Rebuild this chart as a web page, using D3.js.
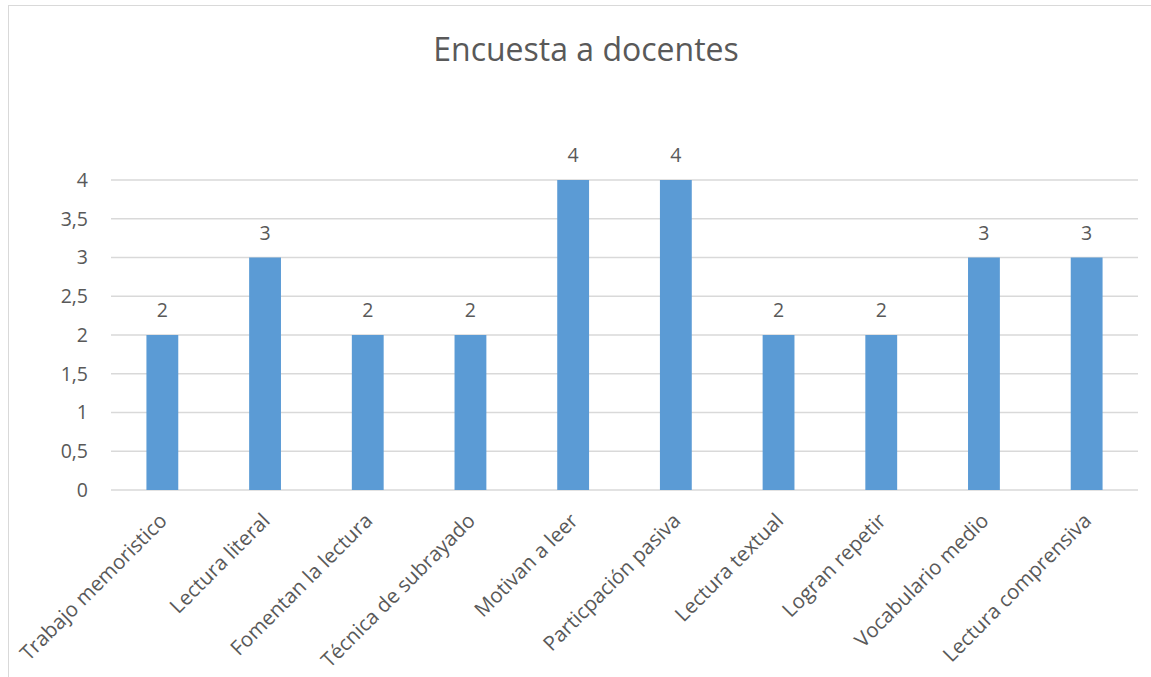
<!DOCTYPE html>
<html>
<head>
<meta charset="utf-8">
<script src="https://cdn.jsdelivr.net/npm/d3@7"></script>
<style>
  body { margin: 0; background: #fff; }
  text { font-family: "Open Sans", "Noto Sans", sans-serif; fill: #595959; }
</style>
</head>
<body>
<svg id="chart" width="1151" height="677"></svg>
<script>
const categories = ["Trabajo memoristico", "Lectura literal", "Fomentan la lectura", "Técnica de subrayado",
  "Motivan a leer", "Particpación pasiva", "Lectura textual", "Logran repetir", "Vocabulario medio", "Lectura comprensiva"];
const values = [2, 3, 2, 2, 4, 4, 2, 2, 3, 3];
const yTicks = [0, 0.5, 1, 1.5, 2, 2.5, 3, 3.5, 4];

(function () {
  const svg = d3.select("svg#chart");
  const plotLeft = 111, plotRight = 1138, plotTop = 180, plotBottom = 490;

  // chart frame
  svg.append("rect")
    .attr("x", 8.5).attr("y", 5.5)
    .attr("width", 1160).attr("height", 690)
    .attr("fill", "none")
    .attr("stroke", "#d9d9d9");

  svg.append("text")
    .attr("x", 586).attr("y", 61)
    .attr("text-anchor", "middle")
    .style("font-size", "32px")
    .text("Encuesta a docentes");

  const x = d3.scaleBand().domain(categories).range([plotLeft, plotRight]).paddingInner(0.69).paddingOuter(0.345);
  const y = d3.scaleLinear().domain([0, 4]).range([plotBottom, plotTop]);

  const fmt = d => String(d).replace(".", ",");

  // gridlines
  svg.append("g")
    .selectAll("line")
    .data(yTicks)
    .join("line")
    .attr("x1", plotLeft).attr("x2", plotRight)
    .attr("y1", d => y(d)).attr("y2", d => y(d))
    .attr("stroke", "#d9d9d9")
    .attr("stroke-width", 1.3);

  const yAxis = svg.append("g")
    .attr("transform", `translate(${plotLeft},0)`)
    .call(d3.axisLeft(y).tickValues(yTicks).tickFormat(fmt).tickSize(0).tickPadding(23));
  yAxis.select(".domain").remove();
  yAxis.selectAll("text").style("font-size", "19.5px").attr("fill", "#595959");

  svg.append("g")
    .selectAll("rect")
    .data(values)
    .join("rect")
    .attr("x", (d, i) => x(categories[i]))
    .attr("y", d => y(d))
    .attr("width", x.bandwidth())
    .attr("height", d => y(0) - y(d))
    .attr("fill", "#5b9bd5");

  svg.append("g")
    .selectAll("text")
    .data(values)
    .join("text")
    .attr("x", (d, i) => x(categories[i]) + x.bandwidth() / 2)
    .attr("y", d => y(d) - 18)
    .attr("text-anchor", "middle")
    .style("font-size", "19.5px")
    .text(d => d);

  const xAxis = svg.append("g")
    .attr("transform", `translate(0,${plotBottom})`)
    .call(d3.axisBottom(x).tickSize(0).tickPadding(0));
  xAxis.select(".domain").remove();
  xAxis.selectAll("text")
    .style("font-size", "20.5px")
    .attr("fill", "#595959")
    .attr("text-anchor", "end")
    .attr("dy", null)
    .attr("transform", "translate(6,32) rotate(-45)");
})();
</script>
</body>
</html>
